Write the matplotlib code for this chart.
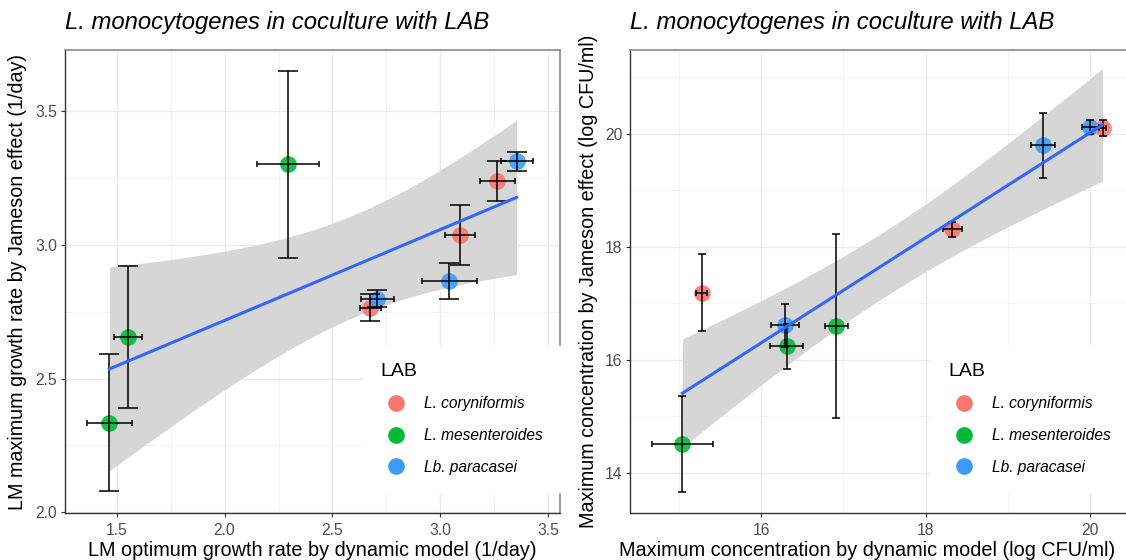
import matplotlib
matplotlib.use('Agg')
import matplotlib.pyplot as plt
import numpy as np
from matplotlib.lines import Line2D
from matplotlib.ticker import MultipleLocator

plt.rcParams['font.family'] = ['Liberation Sans', 'DejaVu Sans']

labs = ['L. coryniformis', 'L. mesenteroides', 'Lb. paracasei']
lab_colors = {'L. coryniformis': '#F8766D', 'L. mesenteroides': '#00BA38', 'Lb. paracasei': '#3D9BFF'}

# growth rate panel (1/day)
gr_lab = ['L. mesenteroides', 'L. mesenteroides', 'L. mesenteroides', 'L. coryniformis', 'Lb. paracasei',
          'Lb. paracasei', 'L. coryniformis', 'L. coryniformis', 'Lb. paracasei']
gr_dyn = [1.466, 1.551, 2.294, 2.676, 2.708, 3.042, 3.093, 3.265, 3.354]
gr_dyn_sd = [0.104, 0.066, 0.142, 0.050, 0.077, 0.126, 0.070, 0.083, 0.074]
gr_jam = [2.335, 2.655, 3.302, 2.766, 2.799, 2.866, 3.037, 3.240, 3.313]
gr_jam_sd = [0.256, 0.265, 0.351, 0.050, 0.032, 0.068, 0.112, 0.075, 0.037]

# maximum concentration panel (log CFU/ml)
mc_lab = ['L. mesenteroides', 'L. coryniformis', 'Lb. paracasei', 'L. mesenteroides', 'L. mesenteroides',
          'L. coryniformis', 'Lb. paracasei', 'Lb. paracasei', 'L. coryniformis']
mc_dyn = [15.043, 15.278, 16.29, 16.31, 16.912, 18.323, 19.425, 20.0, 20.151]
mc_dyn_sd = [0.367, 0.065, 0.17, 0.20, 0.14, 0.113, 0.148, 0.105, 0.045]
mc_jam = [14.513, 17.186, 16.607, 16.241, 16.596, 18.307, 19.794, 20.118, 20.100]
mc_jam_sd = [0.85, 0.68, 0.372, 0.395, 1.634, 0.133, 0.576, 0.118, 0.133]

T975 = 2.3646  # t quantile, df = 7


def lm_fit(x, y, n=80):
    x, y = np.asarray(x), np.asarray(y)
    b, a = np.polyfit(x, y, 1)
    resid = y - (a + b * x)
    s = np.sqrt(np.sum(resid ** 2) / (len(x) - 2))
    xs = np.linspace(x.min(), x.max(), n)
    se = s * np.sqrt(1 / len(x) + (xs - x.mean()) ** 2 / np.sum((x - x.mean()) ** 2))
    fit = a + b * xs
    return xs, fit, fit - T975 * se, fit + T975 * se


def panel(ax, lab, x, xsd, y, ysd, capw, xlabel, ylabel, xlim, ylim, xmaj, ymaj):
    ax.set_facecolor('white')
    xs, fit, lo, hi = lm_fit(x, y)
    ax.fill_between(xs, lo, hi, color='#D6D6D6', lw=0, zorder=1)
    for l, xi, yi in zip(lab, x, y):
        ax.plot(xi, yi, 'o', ms=12, color=lab_colors[l], mec='none', alpha=0.9, zorder=2)
    ax.errorbar(x, y, yerr=ysd, fmt='none', ecolor='black', elinewidth=1.1, capsize=capw,
                capthick=1.1, zorder=3)
    ax.errorbar(x, y, xerr=xsd, fmt='none', ecolor='black', elinewidth=1.1, capsize=2.2,
                capthick=1.1, zorder=3)
    ax.plot(xs, fit, color='#3366FF', lw=2.2, zorder=4)

    ax.set_xlim(xlim)
    ax.set_ylim(ylim)
    ax.xaxis.set_major_locator(MultipleLocator(xmaj))
    ax.yaxis.set_major_locator(MultipleLocator(ymaj))
    ax.xaxis.set_minor_locator(MultipleLocator(xmaj / 2))
    ax.yaxis.set_minor_locator(MultipleLocator(ymaj / 2))
    ax.grid(which='major', color='#EBEBEB', lw=1.0, zorder=0)
    ax.grid(which='minor', color='#F3F3F3', lw=0.6, zorder=0)
    ax.set_axisbelow(True)
    ax.tick_params(which='major', length=3, width=0.8, color='#333333', labelsize=11.3,
                   labelcolor='#4D4D4D', pad=2.5)
    ax.tick_params(axis='x', which='major', pad=4.5)
    ax.tick_params(which='minor', length=0)
    for s in ['top', 'right']:
        ax.spines[s].set_color('#8A8A8A')
        ax.spines[s].set_linewidth(1.2)
    for s in ['left', 'bottom']:
        ax.spines[s].set_color('#333333')
        ax.spines[s].set_linewidth(1.0)

    ax.set_xlabel(xlabel, fontsize=14.3, color='black')
    ax.set_ylabel(ylabel, fontsize=14.2, color='black')
    ax.set_title('L. monocytogenes in coculture with LAB', loc='left', fontsize=17.2,
                 style='italic', pad=15)

    handles = [Line2D([], [], ls='none', marker='o', ms=12, color=lab_colors[l], mec='none')
               for l in labs]
    leg = ax.legend(handles, labs, title='LAB', loc='lower right', bbox_to_anchor=(1.0, 0.046),
                    frameon=True, fancybox=False, framealpha=1, edgecolor='white',
                    fontsize=11.2, title_fontsize=14, labelspacing=1.07, handletextpad=0.77,
                    borderpad=1.1, handlelength=2.05, alignment='left', borderaxespad=0)
    for t in leg.get_texts():
        t.set_style('italic')
    leg.set_zorder(6)


fig = plt.figure(figsize=(11.26, 5.6), dpi=100)
ax1 = fig.add_axes([65 / 1126, 47 / 560, 495 / 1126, 463 / 560])
ax2 = fig.add_axes([630 / 1126, 47 / 560, 498 / 1126, 463 / 560])

panel(ax1, gr_lab, gr_dyn, gr_dyn_sd, gr_jam, gr_jam_sd, 7.2,
      'LM optimum growth rate by dynamic model (1/day)',
      'LM maximum growth rate by Jameson effect (1/day)',
      (1.26, 3.555), (1.997, 3.73), 0.5, 0.5)
panel(ax2, mc_lab, mc_dyn, mc_dyn_sd, mc_jam, mc_jam_sd, 2.8,
      'Maximum concentration by dynamic model (log CFU/ml)',
      'Maximum concentration by Jameson effect (log CFU/ml)',
      (14.405, 20.46), (13.29, 21.48), 2, 2)

ax1.yaxis.set_label_coords(-0.095, 0.5)
ax2.yaxis.set_label_coords(-0.084, 0.5)
for ax in (ax1, ax2):
    ax.xaxis.label.set_verticalalignment('center')
    ax.yaxis.label.set_verticalalignment('center')
ax1.xaxis.set_label_coords(0.5, -0.0815)
ax2.xaxis.set_label_coords(0.476, -0.0815)

fig.savefig('out.png', dpi=100)
